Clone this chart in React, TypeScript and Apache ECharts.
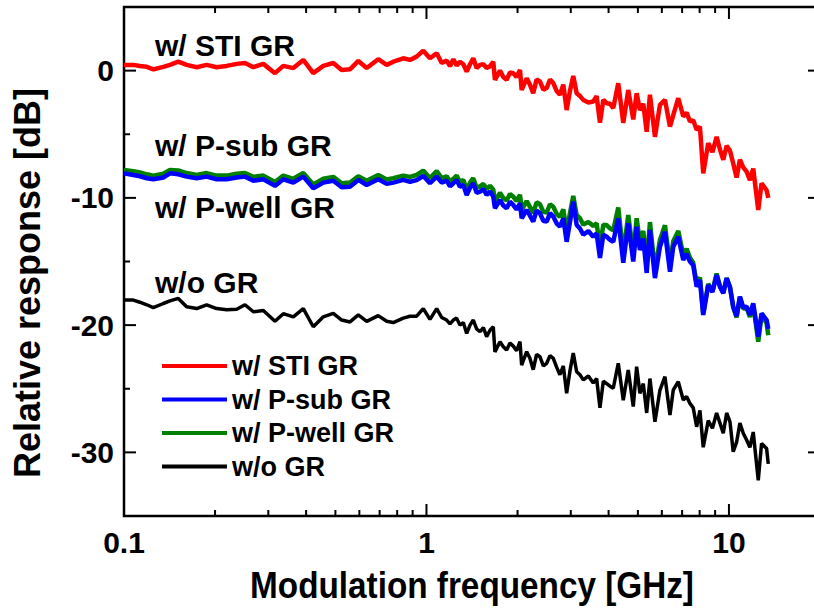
import React, { useEffect, useRef } from "react";
import * as echarts from "echarts";

// Modulation frequency [GHz]
const freqGHz = [
  // 0.1 – 1.1 GHz
  0.1, 0.1073, 0.1129, 0.1189, 0.125, 0.1349, 0.1419, 0.1512, 0.1611, 0.1739,
  0.1876, 0.2024, 0.2185, 0.2358, 0.2512, 0.2677, 0.2888, 0.3156, 0.3363, 0.3629,
  0.3915, 0.4225, 0.456, 0.4919, 0.5243, 0.5586, 0.5952, 0.6344, 0.6928, 0.7387,
  0.7768, 0.8381, 0.8821, 0.928, 0.9759, 1.027, 1.081,
  // 1.1 – 13.5 GHz
  1.123, 1.166, 1.196, 1.227, 1.258, 1.29, 1.324, 1.358, 1.393, 1.428,
  1.465, 1.503, 1.542, 1.581, 1.622, 1.663, 1.684, 1.75, 1.795, 1.841,
  1.888, 1.936, 1.986, 2.038, 2.064, 2.144, 2.198, 2.254, 2.312, 2.372,
  2.434, 2.497, 2.561, 2.626, 2.693, 2.762, 2.834, 2.907, 2.981, 3.057,
  3.137, 3.217, 3.299, 3.43, 3.559, 3.652, 3.746, 3.843, 3.942, 4.042,
  4.145, 4.306, 4.473, 4.646, 4.827, 4.953, 5.078, 5.21, 5.346, 5.48,
  5.693, 5.914, 6.144, 6.383, 6.545, 6.8, 7.063, 7.245, 7.431, 7.62,
  7.82, 8.018, 8.222, 8.541, 8.82, 9.105, 9.34, 9.577, 9.827, 10.08,
  10.33, 10.6, 10.87, 11.15, 11.44, 11.73, 12.03, 12.5, 12.82, 13.32,
  13.49,
];

// Relative response [dB]
const stiGR = [
  0.45, 0.45, 0.37, 0.3, 0.1, 0.3, 0.45, 0.7, 0.45, 0.27,
  0.45, 0.27, 0.37, 0.53, 0.6, 0.27, 0.53, -0.2, 0.37, 0.2,
  0.84, -0.2, 0.37, 0.6, 0.05, 0.1, 0.76, 0.2, 0.9, 0.45,
  0.7, 0.97, 0.84, 1.1, 1.57, 0.97, 1.37,
  0.6, 0.79, 0.35, 0.9, 0.4, 0.7, 0.5, -0.08, 0.5, 0.97,
  0.2, 0.45, 0.5, 0.2, 0.35, 0.7, -0.73, 0.0, -0.5, -0.73,
  -0.15, -0.2, -0.5, 0.05, -1.52, -0.6, -1.1, -1.78, -0.7, -0.85,
  -1.5, -1.37, -0.7, -0.98, -1.6, -1.9, -1.1, -3.1, -1.6, -0.42,
  -1.78, -2.0, -2.3, -2.5, -2.43, -2.0, -4.1, -2.3, -2.56, -2.6,
  -2.95, -0.99, -4.1, -1.52, -3.83, -1.78, -3.1, -2.6, -4.8, -1.9,
  -5.2, -2.69, -2.3, -4.4, -3.5, -2.17, -3.6, -3.3, -4.0, -3.9,
  -4.65, -4.4, -8.07, -5.7, -6.4, -5.2, -6.2, -7.0, -5.9, -6.3,
  -7.3, -8.4, -7.0, -7.6, -7.94, -8.6, -7.7, -10.95, -8.85, -9.4,
  -10.0,
];

const pSubGR = [
  -8.07, -8.2, -8.3, -8.46, -8.54, -8.4, -8.07, -8.15, -8.33, -8.46,
  -8.33, -8.54, -8.54, -8.4, -8.33, -8.65, -8.54, -9.06, -8.54, -8.8,
  -8.33, -9.24, -8.8, -8.65, -9.16, -9.12, -8.59, -8.99, -8.54, -8.9,
  -8.8, -8.59, -8.73, -8.6, -8.28, -8.85, -8.33,
  -8.8, -8.65, -9.1, -8.85, -8.6, -9.12, -9.0, -9.77, -9.2, -8.85,
  -9.6, -9.51, -9.3, -9.77, -9.5, -9.9, -10.82, -10.16, -10.6, -10.82,
  -10.3, -10.56, -10.9, -10.43, -11.6, -10.95, -11.4, -11.87, -11.0, -11.21,
  -11.8, -11.87, -11.2, -11.47, -12.0, -12.27, -11.6, -13.45, -11.9, -10.3,
  -12.13, -12.4, -12.9, -12.6, -13.05, -12.8, -14.72, -12.9, -13.05, -13.3,
  -13.45, -11.6, -15.1, -12.0, -15.0, -12.27, -14.1, -13.2, -15.9, -12.52,
  -16.3, -13.84, -12.66, -15.8, -13.84, -13.05, -14.88, -14.4, -15.0, -15.3,
  -16.98, -16.45, -19.2, -16.85, -17.4, -16.06, -17.0, -17.5, -16.32, -17.0,
  -18.55, -19.3, -17.77, -18.6, -18.55, -19.2, -18.29, -20.9, -19.07, -19.6,
  -20.3,
];

const pWellGR = [
  -7.8, -7.9, -8.0, -8.15, -8.25, -8.1, -7.8, -7.85, -8.05, -8.2,
  -8.05, -8.25, -8.25, -8.1, -8.05, -8.35, -8.25, -8.75, -8.25, -8.5,
  -8.05, -8.95, -8.5, -8.35, -8.85, -8.8, -8.3, -8.65, -8.2, -8.55,
  -8.45, -8.25, -8.35, -8.2, -7.85, -8.45, -7.9,
  -8.45, -8.3, -8.7, -8.5, -8.25, -8.75, -8.6, -9.35, -8.8, -8.45,
  -9.2, -9.1, -8.9, -9.3, -9.05, -9.35, -10.3, -9.6, -10.0, -10.2,
  -9.7, -9.9, -10.25, -9.75, -10.95, -10.25, -10.7, -11.2, -10.35, -10.5,
  -11.1, -11.15, -10.5, -10.7, -11.25, -11.5, -10.9, -12.7, -11.2, -9.85,
  -11.35, -11.6, -12.1, -11.9, -12.2, -12.0, -13.9, -12.1, -12.15, -12.4,
  -12.55, -10.75, -14.4, -11.35, -14.4, -11.6, -13.5, -12.6, -15.3, -11.9,
  -15.7, -13.3, -12.15, -15.3, -13.4, -12.6, -14.5, -14.0, -14.7, -15.1,
  -16.75, -16.25, -19.1, -16.75, -17.35, -15.95, -16.95, -17.45, -16.3, -17.05,
  -18.6, -19.4, -17.8, -18.7, -18.65, -19.35, -18.4, -21.3, -19.2, -19.85,
  -20.8,
];

const noGR = [
  -18.03, -18.03, -18.2, -18.4, -18.63, -18.3, -18.1, -17.9, -18.55, -18.7,
  -18.4, -18.7, -18.8, -18.75, -18.4, -18.95, -18.85, -19.7, -19.1, -19.35,
  -18.7, -20.13, -19.35, -19.07, -19.6, -19.75, -19.2, -19.7, -19.25, -19.7,
  -19.8, -19.45, -19.3, -19.3, -18.7, -19.55, -18.7,
  -19.4, -19.6, -19.9, -19.6, -19.45, -20.0, -19.8, -20.65, -20.0, -19.6,
  -20.3, -20.52, -20.2, -20.9, -20.4, -20.13, -22.1, -21.3, -21.7, -21.96,
  -21.4, -21.65, -22.0, -21.3, -23.14, -22.09, -22.6, -23.5, -22.3, -22.48,
  -23.2, -23.0, -22.4, -22.61, -23.3, -23.9, -23.2, -25.36, -23.6, -22.2,
  -23.66, -23.9, -24.3, -24.0, -24.55, -24.2, -26.5, -24.4, -24.6, -24.8,
  -24.96, -23.0, -25.9, -23.53, -26.4, -23.27, -25.36, -24.6, -26.9, -24.2,
  -27.6, -25.1, -24.05, -27.07, -25.1, -24.45, -25.89, -25.6, -26.15, -26.5,
  -27.99, -26.7, -29.6, -27.5, -28.1, -26.9, -27.7, -28.5, -26.9, -27.6,
  -29.95, -29.2, -27.7, -28.5, -29.03, -29.6, -28.4, -32.2, -29.3, -29.7,
  -30.9,
];

const seriesNames = ["w/ STI GR", "w/ P-sub GR", "w/ P-well GR", "w/o GR"];
const seriesColors = ["#ff0000", "#0000ff", "#008000", "#000000"];
const annotations = ["w/ STI GR", "w/ P-sub GR", "w/ P-well GR", "w/o GR"];

const X_MIN = 0.1;
const X_MAX = 20;
const Y_MIN = -35;
const Y_MAX = 5;
const xMajorTicks = [0.1, 1, 10];
const xMinorTicks = [0.2, 0.3, 0.4, 0.5, 0.6, 0.7, 0.8, 0.9, 2, 3, 4, 5, 6, 7, 8, 9];
const xTickLabels = ["0.1", "1", "10"];
const yMajorTicks = [0, -10, -20, -30];
const yMinorTicks = [-5, -15, -25];

const FONT = '"Liberation Sans", Arial, Helvetica, sans-serif';

export default function App() {
  const ref = useRef<HTMLDivElement>(null);

  useEffect(() => {
    if (!ref.current) return;
    const chart = echarts.init(ref.current, undefined, { renderer: "svg" });

    const pair = (ys: number[]) => freqGHz.map((f, i) => [f, ys[i]]);
    const allValues = [stiGR, pSubGR, pWellGR, noGR];

    const tickData: number[][] = [];
    xMajorTicks.forEach((v) => tickData.push([v, Y_MIN, 12, 0]));
    xMinorTicks.forEach((v) => tickData.push([v, Y_MIN, 6, 0]));
    yMajorTicks.forEach((v) => tickData.push([X_MIN, v, 12, 1]));
    yMinorTicks.forEach((v) => tickData.push([X_MIN, v, 6, 1]));

    const lineSeries = seriesNames.map((name, i) => ({
      name,
      type: "line",
      data: pair(allValues[i]),
      showSymbol: false,
      symbol: "none",
      z: i === 1 ? 4 : i === 2 ? 3 : 2,
      lineStyle: { color: seriesColors[i], width: i === 3 ? 3.5 : 4.5 },
      itemStyle: { color: seriesColors[i] },
    }));

    const tickStyle = { stroke: "#000", lineWidth: 2 };

    chart.setOption({
      animation: false,
      backgroundColor: "#ffffff",
      grid: {
        show: true,
        left: 124,
        top: 7,
        width: 696,
        height: 509,
        outerBoundsMode: "none",
        borderColor: "#000",
        borderWidth: 2.5,
        backgroundColor: "transparent",
      },
      xAxis: {
        type: "log",
        logBase: 10,
        min: X_MIN,
        max: X_MAX,
        axisLine: { show: false },
        axisTick: { show: false },
        splitLine: { show: false },
        axisLabel: {
          margin: 11,
          color: "#000",
          fontSize: 30,
          fontWeight: "bold",
          fontFamily: FONT,
          formatter: (v: number) => {
            const l = Math.log10(v);
            const r = Math.round(l);
            if (Math.abs(l - r) > 1e-6) return "";
            const idx = r + 1;
            return idx >= 0 && idx < xTickLabels.length ? xTickLabels[idx] : "";
          },
        },
      },
      yAxis: {
        type: "value",
        min: Y_MIN,
        max: Y_MAX,
        interval: 5,
        axisLine: { show: false },
        axisTick: { show: false },
        splitLine: { show: false },
        axisLabel: {
          margin: 10,
          color: "#000",
          fontSize: 30,
          fontWeight: "bold",
          fontFamily: FONT,
          formatter: (v: number) =>
            yMajorTicks.indexOf(Math.round(v)) >= 0 ? String(Math.round(v)) : "",
        },
      },
      legend: {
        data: seriesNames,
        orient: "vertical",
        left: 162,
        top: 351,
        itemWidth: 65,
        itemHeight: 4,
        itemGap: 3.5,
        icon: "rect",
        padding: 0,
        textStyle: {
          color: "#000",
          fontSize: 27,
          fontWeight: "bold",
          fontFamily: FONT,
          lineHeight: 30,
        },
      },
      graphic: [
        ...annotations.map((t, i) => ({
          type: "text",
          x: 155,
          y: [45, 145, 207, 282][i],
          silent: true,
          style: {
            text: t,
            fill: "#000",
            font: `bold 30px ${FONT}`,
            align: "left",
            verticalAlign: "middle",
            textAlign: "left",
            textVerticalAlign: "middle",
          },
        })),
        {
          type: "text",
          x: 472,
          y: 585,
          scaleX: 0.9,
          silent: true,
          style: {
            text: "Modulation frequency [GHz]",
            fill: "#000",
            font: `bold 37px ${FONT}`,
            align: "center",
            verticalAlign: "middle",
            textAlign: "center",
            textVerticalAlign: "middle",
          },
        },
        {
          type: "text",
          x: 27,
          y: 283,
          rotation: Math.PI / 2,
          silent: true,
          style: {
            text: "Relative response [dB]",
            fill: "#000",
            font: `bold 36px ${FONT}`,
            align: "center",
            verticalAlign: "middle",
            textAlign: "center",
            textVerticalAlign: "middle",
          },
        },
      ],
      series: [
        ...lineSeries,
        {
          type: "custom",
          name: "ticks",
          silent: true,
          z: 10,
          data: tickData,
          renderItem: (_p: any, api: any) => {
            const xv = api.value(0);
            const yv = api.value(1);
            const len = api.value(2);
            const kind = api.value(3);
            if (kind === 0) {
              const b = api.coord([xv, Y_MIN]);
              const t = api.coord([xv, Y_MAX]);
              return {
                type: "group",
                children: [
                  { type: "line", shape: { x1: b[0], y1: b[1], x2: b[0], y2: b[1] - len }, style: tickStyle },
                  { type: "line", shape: { x1: t[0], y1: t[1], x2: t[0], y2: t[1] + len }, style: tickStyle },
                ],
              };
            }
            const l = api.coord([X_MIN, yv]);
            const r = api.coord([X_MAX, yv]);
            return {
              type: "group",
              children: [
                { type: "line", shape: { x1: l[0], y1: l[1], x2: l[0] + len, y2: l[1] }, style: tickStyle },
                { type: "line", shape: { x1: r[0], y1: r[1], x2: r[0] - len, y2: r[1] }, style: tickStyle },
              ],
            };
          },
        },
      ],
    });

    return () => chart.dispose();
  }, []);

  return (
    <div
      ref={ref}
      style={{ position: "fixed", left: 0, top: 0, width: 820, height: 611, background: "#fff" }}
    />
  );
}
